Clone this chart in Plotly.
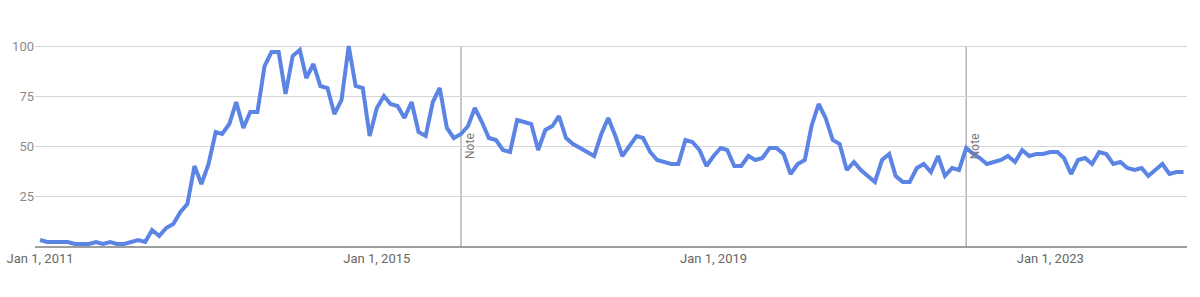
import pandas as pd
import plotly.graph_objects as go

# Monthly interest values, Jan 2011 .. Aug 2024
values_2011 = [3, 2, 2, 2, 2, 1, 1, 1, 2, 1, 2, 1]
values_2012 = [1, 2, 3, 2, 8, 5, 9, 11, 17, 21, 40, 31]
values_2013 = [41, 57, 56, 61, 72, 59, 67, 67, 90, 97, 97, 76]
values_2014 = [95, 98, 84, 91, 80, 79, 66, 73, 100, 80, 79, 55]
values_2015 = [69, 75, 71, 70, 64, 72, 57, 55, 72, 79, 59, 54]
values_2016 = [56, 60, 69, 62, 54, 53, 48, 47, 63, 62, 61, 48]
values_2017 = [58, 60, 65, 54, 51, 49, 47, 45, 56, 64, 55, 45]
values_2018 = [50, 55, 54, 47, 43, 42, 41, 41, 53, 52, 48, 40]
values_2019 = [45, 49, 48, 40, 40, 45, 43, 44, 49, 49, 46, 36]
values_2020 = [41, 43, 60, 71, 64, 53, 51, 38, 42, 38, 35, 32]
values_2021 = [43, 46, 35, 32, 32, 39, 41, 37, 45, 35, 39, 38]
values_2022 = [49, 46, 44, 41, 42, 43, 45, 42, 48, 45, 46, 46]
values_2023 = [47, 47, 44, 36, 43, 44, 41, 47, 46, 41, 42, 39]
values_2024 = [38, 39, 35, 38, 41, 36, 37, 37]

values = (values_2011 + values_2012 + values_2013 + values_2014 + values_2015
          + values_2016 + values_2017 + values_2018 + values_2019 + values_2020
          + values_2021 + values_2022 + values_2023 + values_2024)
dates = pd.date_range("2011-01-01", periods=len(values), freq="MS")

x_tick_vals = ["2011-01-01", "2015-01-01", "2019-01-01", "2023-01-01"]
x_tick_text = ["Jan 1, 2011", "Jan 1, 2015", "Jan 1, 2019", "Jan 1, 2023"]
y_tick_vals = [25, 50, 75, 100]
y_tick_text = ["25", "50", "75", "100"]
note_dates = ["2016-01-01", "2022-01-01"]
note_text = "Note"

fig = go.Figure()
fig.add_trace(go.Scatter(
    x=dates, y=values, mode="lines",
    line=dict(color="#5b84e4", width=4),
    hoverinfo="skip", showlegend=False,
))

for d in note_dates:
    fig.add_shape(type="line", xref="x", yref="y", x0=d, x1=d, y0=0, y1=100,
                  line=dict(color="#b5b5b5", width=1.5), layer="below")
    fig.add_annotation(x=d, y=50, xref="x", yref="y", text=note_text,
                       showarrow=False, textangle=-90, xshift=9,
                       font=dict(family="Roboto", size=12, color="#777777"))

fig.update_layout(
    width=1200, height=297,
    margin=dict(l=35, r=13, t=42, b=51, autoexpand=False),
    paper_bgcolor="white", plot_bgcolor="white",
    font=dict(family="Roboto", size=13, color="#757575"),
    xaxis=dict(
        type="date", automargin=False,
        range=["2010-12-10", "2024-08-16"],
        tickmode="array", tickvals=x_tick_vals, ticktext=x_tick_text,
        showgrid=False, zeroline=False,
        showline=True, linecolor="#9e9e9e", linewidth=1.5,
        ticks="", tickfont=dict(color="#666666", size=13),
    ),
    yaxis=dict(
        range=[0, 102], automargin=False,
        tickmode="array", tickvals=y_tick_vals, ticktext=y_tick_text,
        showgrid=True, gridcolor="#d6d6d6", gridwidth=1.2,
        zeroline=False, showline=False, ticks="",
        tickfont=dict(color="#8a8a8a", size=13),
    ),
)

fig.write_html("out.html")
